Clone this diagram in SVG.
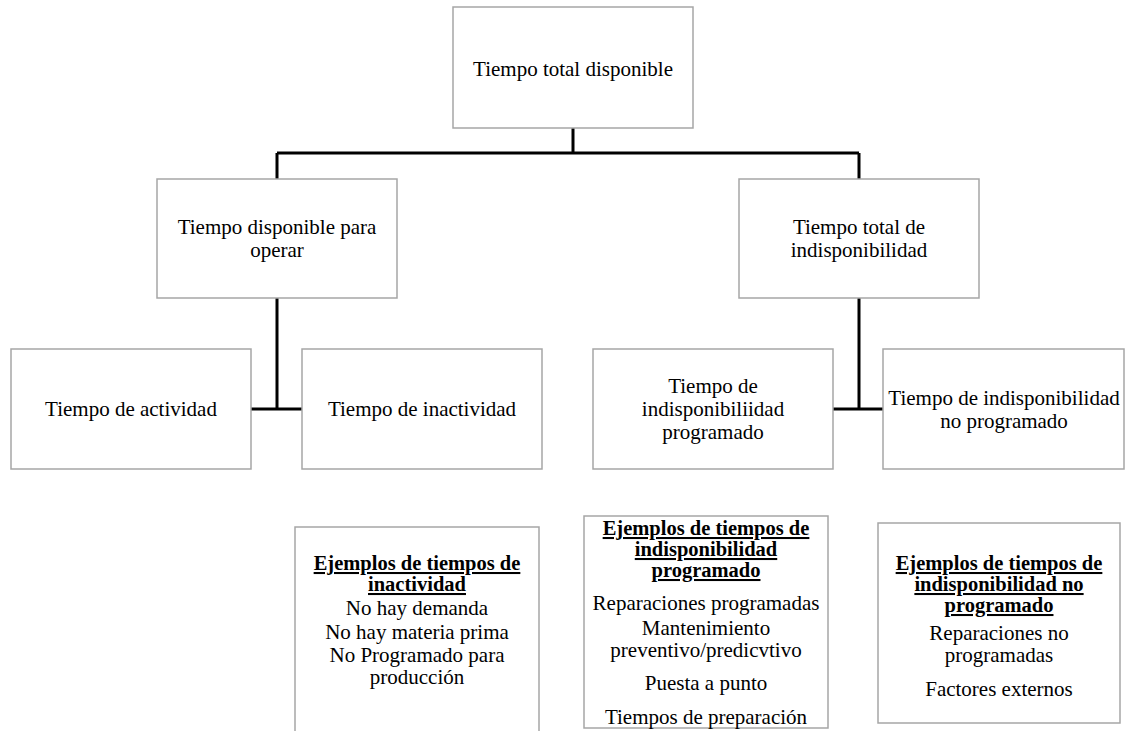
<svg xmlns="http://www.w3.org/2000/svg" width="1130" height="731" viewBox="0 0 1130 731">
<style>
.box{fill:#fff;stroke:#a6a6a6;stroke-width:1.5}
text{font-family:"Times New Roman","Liberation Serif",Tinos,"Nimbus Roman","DejaVu Serif",serif;font-weight:400;font-size:21px;fill:#000;text-anchor:middle}
.h{font-size:20.5px;font-weight:700;text-decoration:underline}
.c{fill:none;stroke:#000;stroke-width:3}
</style>
<rect width="1130" height="731" fill="#fff"/>
<g id="connectors">
<path class="c" d="M573 128V153M277 153H859M277 153V179M859 153V179"/>
<path class="c" d="M277 298V409M251 409H302"/>
<path class="c" d="M859 298V409M833 409H883"/>
</g>
<g id="n-total">
<rect class="box" x="453" y="7" width="240" height="121"/>
<text x="573" y="76">Tiempo total disponible</text>
</g>
<g id="n-operar">
<rect class="box" x="157" y="179" width="240" height="119"/>
<text x="277" y="234">Tiempo disponible para</text>
<text x="277" y="257">operar</text>
</g>
<g id="n-indisp">
<rect class="box" x="739" y="179" width="240" height="119"/>
<text x="859" y="234">Tiempo total de</text>
<text x="859" y="257">indisponibilidad</text>
</g>
<g id="n-actividad">
<rect class="box" x="11" y="349" width="240" height="120"/>
<text x="131" y="416">Tiempo de actividad</text>
</g>
<g id="n-inactividad">
<rect class="box" x="302" y="349" width="240" height="120"/>
<text x="422" y="416">Tiempo de inactividad</text>
</g>
<g id="n-programado">
<rect class="box" x="593" y="349" width="240" height="120"/>
<text x="713" y="393">Tiempo de</text>
<text x="713" y="416">indisponibiliidad</text>
<text x="713" y="439">programado</text>
</g>
<g id="n-noprogramado">
<rect class="box" x="883" y="349" width="241" height="120"/>
<text x="1004" y="405">Tiempo de indisponibilidad</text>
<text x="1004" y="428">no programado</text>
</g>
<g id="ex-inactividad">
<path class="box" d="M295 740V527H539V740"/>
<text class="h" x="417" y="570">Ejemplos de tiempos de</text>
<text class="h" x="417" y="591">inactividad</text>
<text x="417" y="615">No hay demanda</text>
<text x="417" y="639">No hay materia prima</text>
<text x="417" y="662">No Programado para</text>
<text x="417" y="684">producción</text>
</g>
<g id="ex-programado">
<rect class="box" x="584" y="516" width="244" height="212"/>
<text class="h" x="706" y="535">Ejemplos de tiempos de</text>
<text class="h" x="706" y="556">indisponibilidad</text>
<text class="h" x="706" y="577">programado</text>
<text x="706" y="610">Reparaciones programadas</text>
<text x="706" y="635">Mantenimiento</text>
<text x="706" y="657">preventivo/predicvtivo</text>
<text x="706" y="690">Puesta a punto</text>
<text x="706" y="724">Tiempos de preparación</text>
</g>
<g id="ex-noprogramado">
<rect class="box" x="878" y="523" width="242" height="200"/>
<text class="h" x="999" y="570">Ejemplos de tiempos de</text>
<text class="h" x="999" y="591">indisponibilidad no</text>
<text class="h" x="999" y="612">programado</text>
<text x="999" y="640">Reparaciones no</text>
<text x="999" y="662">programadas</text>
<text x="999" y="696">Factores externos</text>
</g>
</svg>
